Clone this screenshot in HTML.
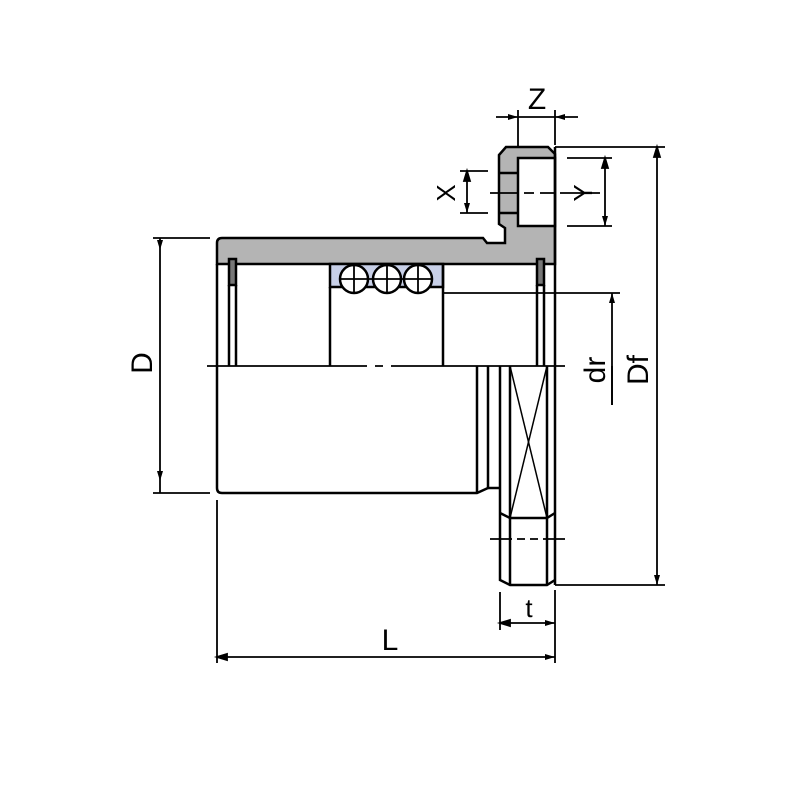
<!DOCTYPE html>
<html><head><style>body{margin:0;background:#fff}svg{display:block}</style></head><body>
<svg width="800" height="800" viewBox="0 0 800 800" xmlns="http://www.w3.org/2000/svg">
<defs>
<marker id="a" markerWidth="10" markerHeight="6" refX="10" refY="3" orient="auto" markerUnits="userSpaceOnUse"><path d="M0,0 L10,3 L0,6 z" fill="#000"/></marker>
</defs>
<rect width="800" height="800" fill="#fff"/>
<g stroke="#000" fill="none" stroke-width="2.5">
<!-- grey body -->
<path d="M217,264 L217,243 Q217,238 222,238 L483,238 L487,243 L505,243 L505,228 L499,224 L499,155 L506,147 L548,147 L555,154 L555,264 Z" fill="#b4b4b4"/>
<rect x="518" y="158" width="37" height="68" fill="#fff"/>
<line x1="499" y1="173" x2="518" y2="173"/><line x1="499" y1="213" x2="518" y2="213"/>
<!-- bearing -->
<rect x="330" y="264" width="113" height="23" fill="#c8d0e8"/>
<g fill="#fff"><circle cx="354" cy="279" r="14"/><circle cx="387" cy="279" r="14"/><circle cx="418" cy="279" r="14"/></g>
<g stroke-width="1.8"><line x1="340" y1="279" x2="432" y2="279"/><line x1="354" y1="265" x2="354" y2="293"/><line x1="387" y1="265" x2="387" y2="293"/><line x1="418" y1="265" x2="418" y2="293"/></g>
<line x1="330" y1="287" x2="330" y2="366"/><line x1="443" y1="264" x2="443" y2="366"/>
<!-- outer lines -->
<line x1="217" y1="264" x2="217" y2="488"/>
<path d="M217,488 Q217,493 222,493 L477,493 L488,488"/>
<line x1="555" y1="147" x2="555" y2="585"/>
<!-- snap rings -->
<rect x="229" y="259" width="7" height="26" fill="#777"/>
<line x1="229" y1="285" x2="229" y2="366"/><line x1="236" y1="285" x2="236" y2="366"/>
<rect x="537" y="259" width="7" height="26" fill="#777"/>
<line x1="537" y1="285" x2="537" y2="366"/><line x1="544" y1="285" x2="544" y2="366"/>
<!-- lower flange -->
<line x1="477" y1="366" x2="477" y2="493"/><line x1="488" y1="366" x2="488" y2="488"/>
<path d="M500,366 L500,580 L510,585 L547,585 L555,580"/>
<line x1="510" y1="366" x2="510" y2="585"/><line x1="547" y1="366" x2="547" y2="585"/>
<path d="M500,513 L510,518 L547,518 L555,513"/>
<g stroke-width="1.5"><line x1="510" y1="366" x2="547" y2="518"/><line x1="547" y1="366" x2="510" y2="518"/></g>
<line x1="488" y1="488" x2="500" y2="488"/>
</g>
<g stroke="#000" stroke-width="1.8" fill="none">
<!-- centerlines -->
<line x1="207" y1="366" x2="565" y2="366" stroke-dasharray="160,8,8,8,300"/>
<line x1="490" y1="539" x2="565" y2="539" stroke-dasharray="22,5,8,5,8,5,30"/>
<line x1="490" y1="193" x2="600" y2="193" stroke-dasharray="28,6,10,6,14,6,40"/>
<!-- D -->
<line x1="153" y1="238" x2="210" y2="238"/><line x1="153" y1="493" x2="210" y2="493"/>
<line x1="160" y1="250" x2="160" y2="481" marker-start="url(#a)" marker-end="url(#a)" transform=""/>
<line x1="160" y1="250" x2="160" y2="238"/><line x1="160" y1="481" x2="160" y2="493"/>
<!-- L -->
<line x1="217" y1="500" x2="217" y2="663"/><line x1="555" y1="590" x2="555" y2="663"/>
<line x1="217" y1="657" x2="555" y2="657" marker-end="url(#a)"/>
<path d="M217,657 l10,-3 v6 z" fill="#000"/>
<!-- t -->
<line x1="500" y1="592" x2="500" y2="630"/>
<line x1="500" y1="623" x2="555" y2="623" marker-end="url(#a)"/>
<path d="M500,623 l10,-3 v6 z" fill="#000"/>
<!-- Df -->
<line x1="555" y1="147" x2="665" y2="147"/><line x1="555" y1="585" x2="665" y2="585"/>
<line x1="657" y1="147" x2="657" y2="585" marker-end="url(#a)"/>
<path d="M657,147 l-3,10 h6 z" fill="#000"/>
<!-- dr -->
<line x1="443" y1="293" x2="620" y2="293"/>
<line x1="612" y1="405" x2="612" y2="293" marker-end="url(#a)"/>
<line x1="612" y1="366" x2="612" y2="405"/>
<!-- X -->
<line x1="460" y1="171" x2="488" y2="171"/><line x1="460" y1="213" x2="488" y2="213"/>
<line x1="467" y1="171" x2="467" y2="213" marker-end="url(#a)"/>
<path d="M467,171 l-3,10 h6 z" fill="#000"/>
<!-- Y -->
<line x1="567" y1="158" x2="612" y2="158"/><line x1="567" y1="226" x2="612" y2="226"/>
<line x1="605" y1="158" x2="605" y2="226" marker-end="url(#a)"/>
<path d="M605,158 l-3,10 h6 z" fill="#000"/>
<!-- Z -->
<line x1="518" y1="110" x2="518" y2="147"/><line x1="555" y1="110" x2="555" y2="145"/>
<line x1="496" y1="117" x2="518" y2="117" marker-end="url(#a)"/>
<line x1="578" y1="117" x2="555" y2="117" marker-end="url(#a)"/>
<line x1="518" y1="117" x2="555" y2="117"/>
</g>
<g font-family="Liberation Sans, sans-serif" font-size="30" fill="#000" text-anchor="middle">
<text x="537" y="109">Z</text>
<text x="390" y="650">L</text>
<text x="529" y="617" font-size="26">t</text>
<text transform="translate(152,363) rotate(-90)">D</text>
<text transform="translate(455,193) rotate(-90)" font-size="26">X</text>
<text transform="translate(592,193) rotate(-90)" font-size="26">Y</text>
<text transform="translate(605,370) rotate(-90)">dr</text>
<text transform="translate(648,370) rotate(-90)">Df</text>
</g>
</svg>
</body></html>
